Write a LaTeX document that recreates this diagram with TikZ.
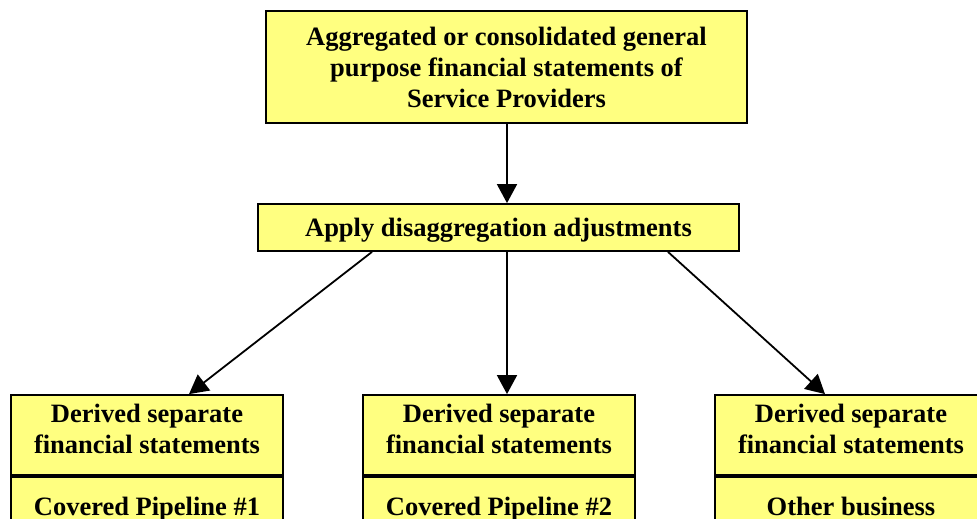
\documentclass[tikz,border=0pt]{standalone}
\usepackage{fontspec}
\setmainfont{Liberation Serif}
\usetikzlibrary{arrows.meta}
\definecolor{boxfill}{HTML}{FFFF80}
\tikzset{
  box/.style={draw=black, line width=1.8pt, fill=boxfill, align=center,
    font=\bfseries\fontsize{26.5}{31}\selectfont, inner sep=0pt},
  derived/.style={box, minimum width=272pt, minimum height=80pt, text depth=13pt},
  lower/.style={box, minimum width=272pt, anchor=north, inner ysep=21pt,
    text height=18pt, text depth=6pt},
  flow/.style={draw=black, line width=1.8pt, -{Triangle[length=19pt, width=20pt]}}
}
\begin{document}
\begin{tikzpicture}[x=1pt, y=-1pt]
  \useasboundingbox (0,0) rectangle (977,519);
  \clip (0,0) rectangle (977,519);
  % source statements
  \node[box, minimum width=481pt, minimum height=112pt] (src) at (506.5,67)
    {Aggregated or consolidated general\\purpose financial statements of\\Service Providers};
  % adjustment step
  \node[box, minimum width=481pt, minimum height=47pt, text depth=0pt] (adj) at (498.5,227.5)
    {Apply disaggregation adjustments};
  % derived statements, upper halves
  \node[derived] (d1) at (147,435) {Derived separate\\financial statements};
  \node[derived] (d2) at (499,435) {Derived separate\\financial statements};
  \node[derived] (d3) at (851,435) {Derived separate\\financial statements};
  % derived statements, lower halves
  \node[lower] (c1) at (d1.south) {Covered Pipeline \#1};
  \node[lower] (c2) at (d2.south) {Covered Pipeline \#2};
  \node[lower] (c3) at (d3.south) {Other business};
  % connectors
  \coordinate (a0) at (507,252);
  \draw[flow] (src.south -| a0) -- (adj.north -| a0);
  \draw[flow] (adj.south -| 372,0) -- (d1.north -| 189,0);
  \draw[flow] (adj.south -| a0) -- (d2.north -| a0);
  \draw[flow] (adj.south -| 668,0) -- (d3.north -| 825,0);
\end{tikzpicture}
\end{document}
